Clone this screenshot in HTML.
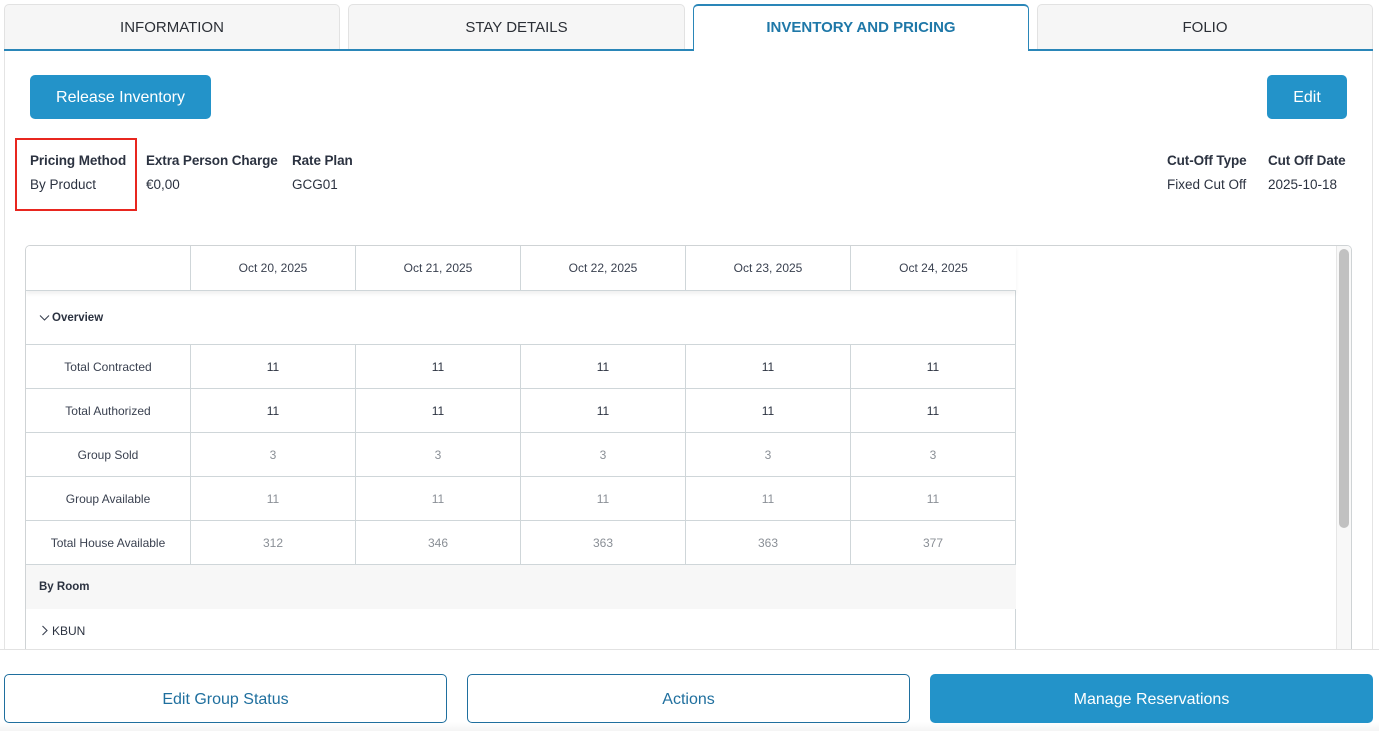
<!DOCTYPE html>
<html><head><meta charset="utf-8">
<style>
*{box-sizing:border-box;margin:0;padding:0}
html,body{width:1379px;height:731px;overflow:hidden;background:#fff;font-family:"Liberation Sans",Arial,sans-serif;color:#333}
.abs{position:absolute}
.tab{position:absolute;top:4px;height:46px;background:#f6f6f6;border:1px solid #e2e2e2;border-bottom:none;border-radius:5px 5px 0 0;text-align:center;line-height:46px;font-size:15px;color:#2b2f36}
.tab.active{background:#fff;border:1px solid #2a86b8;border-top:2px solid #2a86b8;border-bottom:none;color:#1f78a8;font-weight:bold;line-height:44px;height:46px;z-index:3}
.btn{position:absolute;background:#2393c9;color:#fff;border-radius:5px;font-size:16px;text-align:center;line-height:46px;height:44px;top:75px}
.lbl{position:absolute;font-size:13.5px;font-weight:bold;color:#2b3240;top:153px;white-space:nowrap;letter-spacing:-0.1px}
.val{position:absolute;font-size:13.5px;color:#2b3240;top:177px;white-space:nowrap}
.cell{position:absolute;height:44px;border-right:1px solid #cfd6d9;border-bottom:1px solid #cfd6d9;text-align:center;font-size:12px;line-height:44px;color:#3a4150;white-space:nowrap}
.dk{color:#2b3240}
.lt{color:#8a8f96}
.obtn{position:absolute;top:674px;height:49px;width:443px;border:1px solid #1f6f9e;border-radius:5px;color:#1f6f9e;font-size:16px;text-align:center;line-height:49px;background:#fff}
</style></head><body>

<!-- panel borders -->
<div class="abs" style="left:4px;top:49px;width:1369px;height:601px;border-left:1px solid #e4e4e4;border-right:1px solid #e4e4e4"></div>
<div class="abs" style="left:4px;top:49px;width:1369px;height:2px;background:#2a86b8;z-index:2"></div>

<!-- tabs -->
<div class="tab" style="left:4px;width:336px">INFORMATION</div>
<div class="tab" style="left:348px;width:337px">STAY DETAILS</div>
<div class="tab active" style="left:693px;width:336px">INVENTORY AND PRICING</div>
<div class="abs" style="left:694px;top:49px;width:334px;height:2px;background:#fff;z-index:4"></div>
<div class="tab" style="left:1037px;width:336px">FOLIO</div>

<!-- buttons -->
<div class="btn" style="left:30px;width:181px">Release Inventory</div>
<div class="btn" style="left:1267px;width:80px">Edit</div>

<!-- info -->
<div class="abs" style="left:15px;top:138px;width:122px;height:73px;border:2px solid #e8261f"></div>
<div class="lbl" style="left:30px">Pricing Method</div>
<div class="val" style="left:30px">By Product</div>
<div class="lbl" style="left:146px">Extra Person Charge</div>
<div class="val" style="left:146px">€0,00</div>
<div class="lbl" style="left:292px">Rate Plan</div>
<div class="val" style="left:292px">GCG01</div>
<div class="lbl" style="left:1167px">Cut-Off Type</div>
<div class="val" style="left:1167px">Fixed Cut Off</div>
<div class="lbl" style="left:1268px">Cut Off Date</div>
<div class="val" style="left:1268px">2025-10-18</div>

<!-- table container -->
<div class="abs" style="left:25px;top:245px;width:1327px;height:420px;border:1px solid #cfd3d5;border-radius:5px;overflow:hidden">
  <!-- scrollbar -->
  <div class="abs" style="left:1310px;top:0;width:16px;height:420px;background:#f8f8f8;border-left:1px solid #e6e6e6"></div>
  <div class="abs" style="left:1313px;top:3px;width:10px;height:279px;background:#c1c1c1;border-radius:5px"></div>

  <!-- header -->
  <div class="abs" style="left:0;top:0;width:990px;height:45px;box-shadow:0 3px 4px rgba(0,0,0,0.06);z-index:2;background:#fff">
    <div class="cell" style="left:0;top:0;width:165px;height:45px"></div>
    <div class="cell" style="left:165px;top:0;width:165px;height:45px">Oct 20, 2025</div>
    <div class="cell" style="left:330px;top:0;width:165px;height:45px">Oct 21, 2025</div>
    <div class="cell" style="left:495px;top:0;width:165px;height:45px">Oct 22, 2025</div>
    <div class="cell" style="left:660px;top:0;width:165px;height:45px">Oct 23, 2025</div>
    <div class="cell" style="left:825px;top:0;width:165px;height:45px;border-right:none">Oct 24, 2025</div>
  </div>

  <!-- overview row -->
  <div class="cell" style="left:0;top:45px;width:990px;height:54px;line-height:54px;text-align:left;padding-left:26px;font-weight:bold;font-size:11.5px;color:#2b3240">Overview</div>
  <svg class="abs" style="left:13px;top:68px;z-index:3" width="11" height="8" viewBox="0 0 11 8"><polyline points="1,1.5 5.5,6 10,1.5" fill="none" stroke="#3a4150" stroke-width="1.1"/></svg>

  <!-- rows -->
  <div class="cell" style="left:0;top:99px;width:165px">Total Contracted</div>
  <div class="cell dk" style="left:165px;top:99px;width:165px">11</div>
  <div class="cell dk" style="left:330px;top:99px;width:165px">11</div>
  <div class="cell dk" style="left:495px;top:99px;width:165px">11</div>
  <div class="cell dk" style="left:660px;top:99px;width:165px">11</div>
  <div class="cell dk" style="left:825px;top:99px;width:165px">11</div>

  <div class="cell" style="left:0;top:143px;width:165px">Total Authorized</div>
  <div class="cell dk" style="left:165px;top:143px;width:165px">11</div>
  <div class="cell dk" style="left:330px;top:143px;width:165px">11</div>
  <div class="cell dk" style="left:495px;top:143px;width:165px">11</div>
  <div class="cell dk" style="left:660px;top:143px;width:165px">11</div>
  <div class="cell dk" style="left:825px;top:143px;width:165px">11</div>

  <div class="cell" style="left:0;top:187px;width:165px">Group Sold</div>
  <div class="cell lt" style="left:165px;top:187px;width:165px">3</div>
  <div class="cell lt" style="left:330px;top:187px;width:165px">3</div>
  <div class="cell lt" style="left:495px;top:187px;width:165px">3</div>
  <div class="cell lt" style="left:660px;top:187px;width:165px">3</div>
  <div class="cell lt" style="left:825px;top:187px;width:165px">3</div>

  <div class="cell" style="left:0;top:231px;width:165px">Group Available</div>
  <div class="cell lt" style="left:165px;top:231px;width:165px">11</div>
  <div class="cell lt" style="left:330px;top:231px;width:165px">11</div>
  <div class="cell lt" style="left:495px;top:231px;width:165px">11</div>
  <div class="cell lt" style="left:660px;top:231px;width:165px">11</div>
  <div class="cell lt" style="left:825px;top:231px;width:165px">11</div>

  <div class="cell" style="left:0;top:275px;width:165px">Total House Available</div>
  <div class="cell lt" style="left:165px;top:275px;width:165px">312</div>
  <div class="cell lt" style="left:330px;top:275px;width:165px">346</div>
  <div class="cell lt" style="left:495px;top:275px;width:165px">363</div>
  <div class="cell lt" style="left:660px;top:275px;width:165px">363</div>
  <div class="cell lt" style="left:825px;top:275px;width:165px">377</div>

  <div class="abs" style="left:0;top:319px;width:990px;height:44px;background:#f7f7f7;font-size:11.5px;font-weight:bold;line-height:44px;padding-left:13px;color:#2b3240">By Room</div>
  <div class="abs" style="left:0;top:363px;width:990px;height:60px;border-right:1px solid #cfd6d9;font-size:12px;line-height:44px;padding-left:26px;color:#2b3240">KBUN</div>
  <svg class="abs" style="left:15px;top:379px" width="8" height="11" viewBox="0 0 8 11"><polyline points="1.5,1 6,5.5 1.5,10" fill="none" stroke="#3a4150" stroke-width="1.1"/></svg>
</div>

<!-- bottom bar -->
<div class="abs" style="left:0;top:649px;width:1379px;height:82px;background:linear-gradient(#fff 0,#fff 72px,#f3f3f3 82px);border-top:1px solid #e2e2e2;z-index:5">
</div>
<div class="obtn" style="left:4px;z-index:6">Edit Group Status</div>
<div class="obtn" style="left:467px;z-index:6">Actions</div>
<div class="obtn" style="left:930px;background:#2393c9;border-color:#2393c9;color:#fff;z-index:6">Manage Reservations</div>

</body></html>
